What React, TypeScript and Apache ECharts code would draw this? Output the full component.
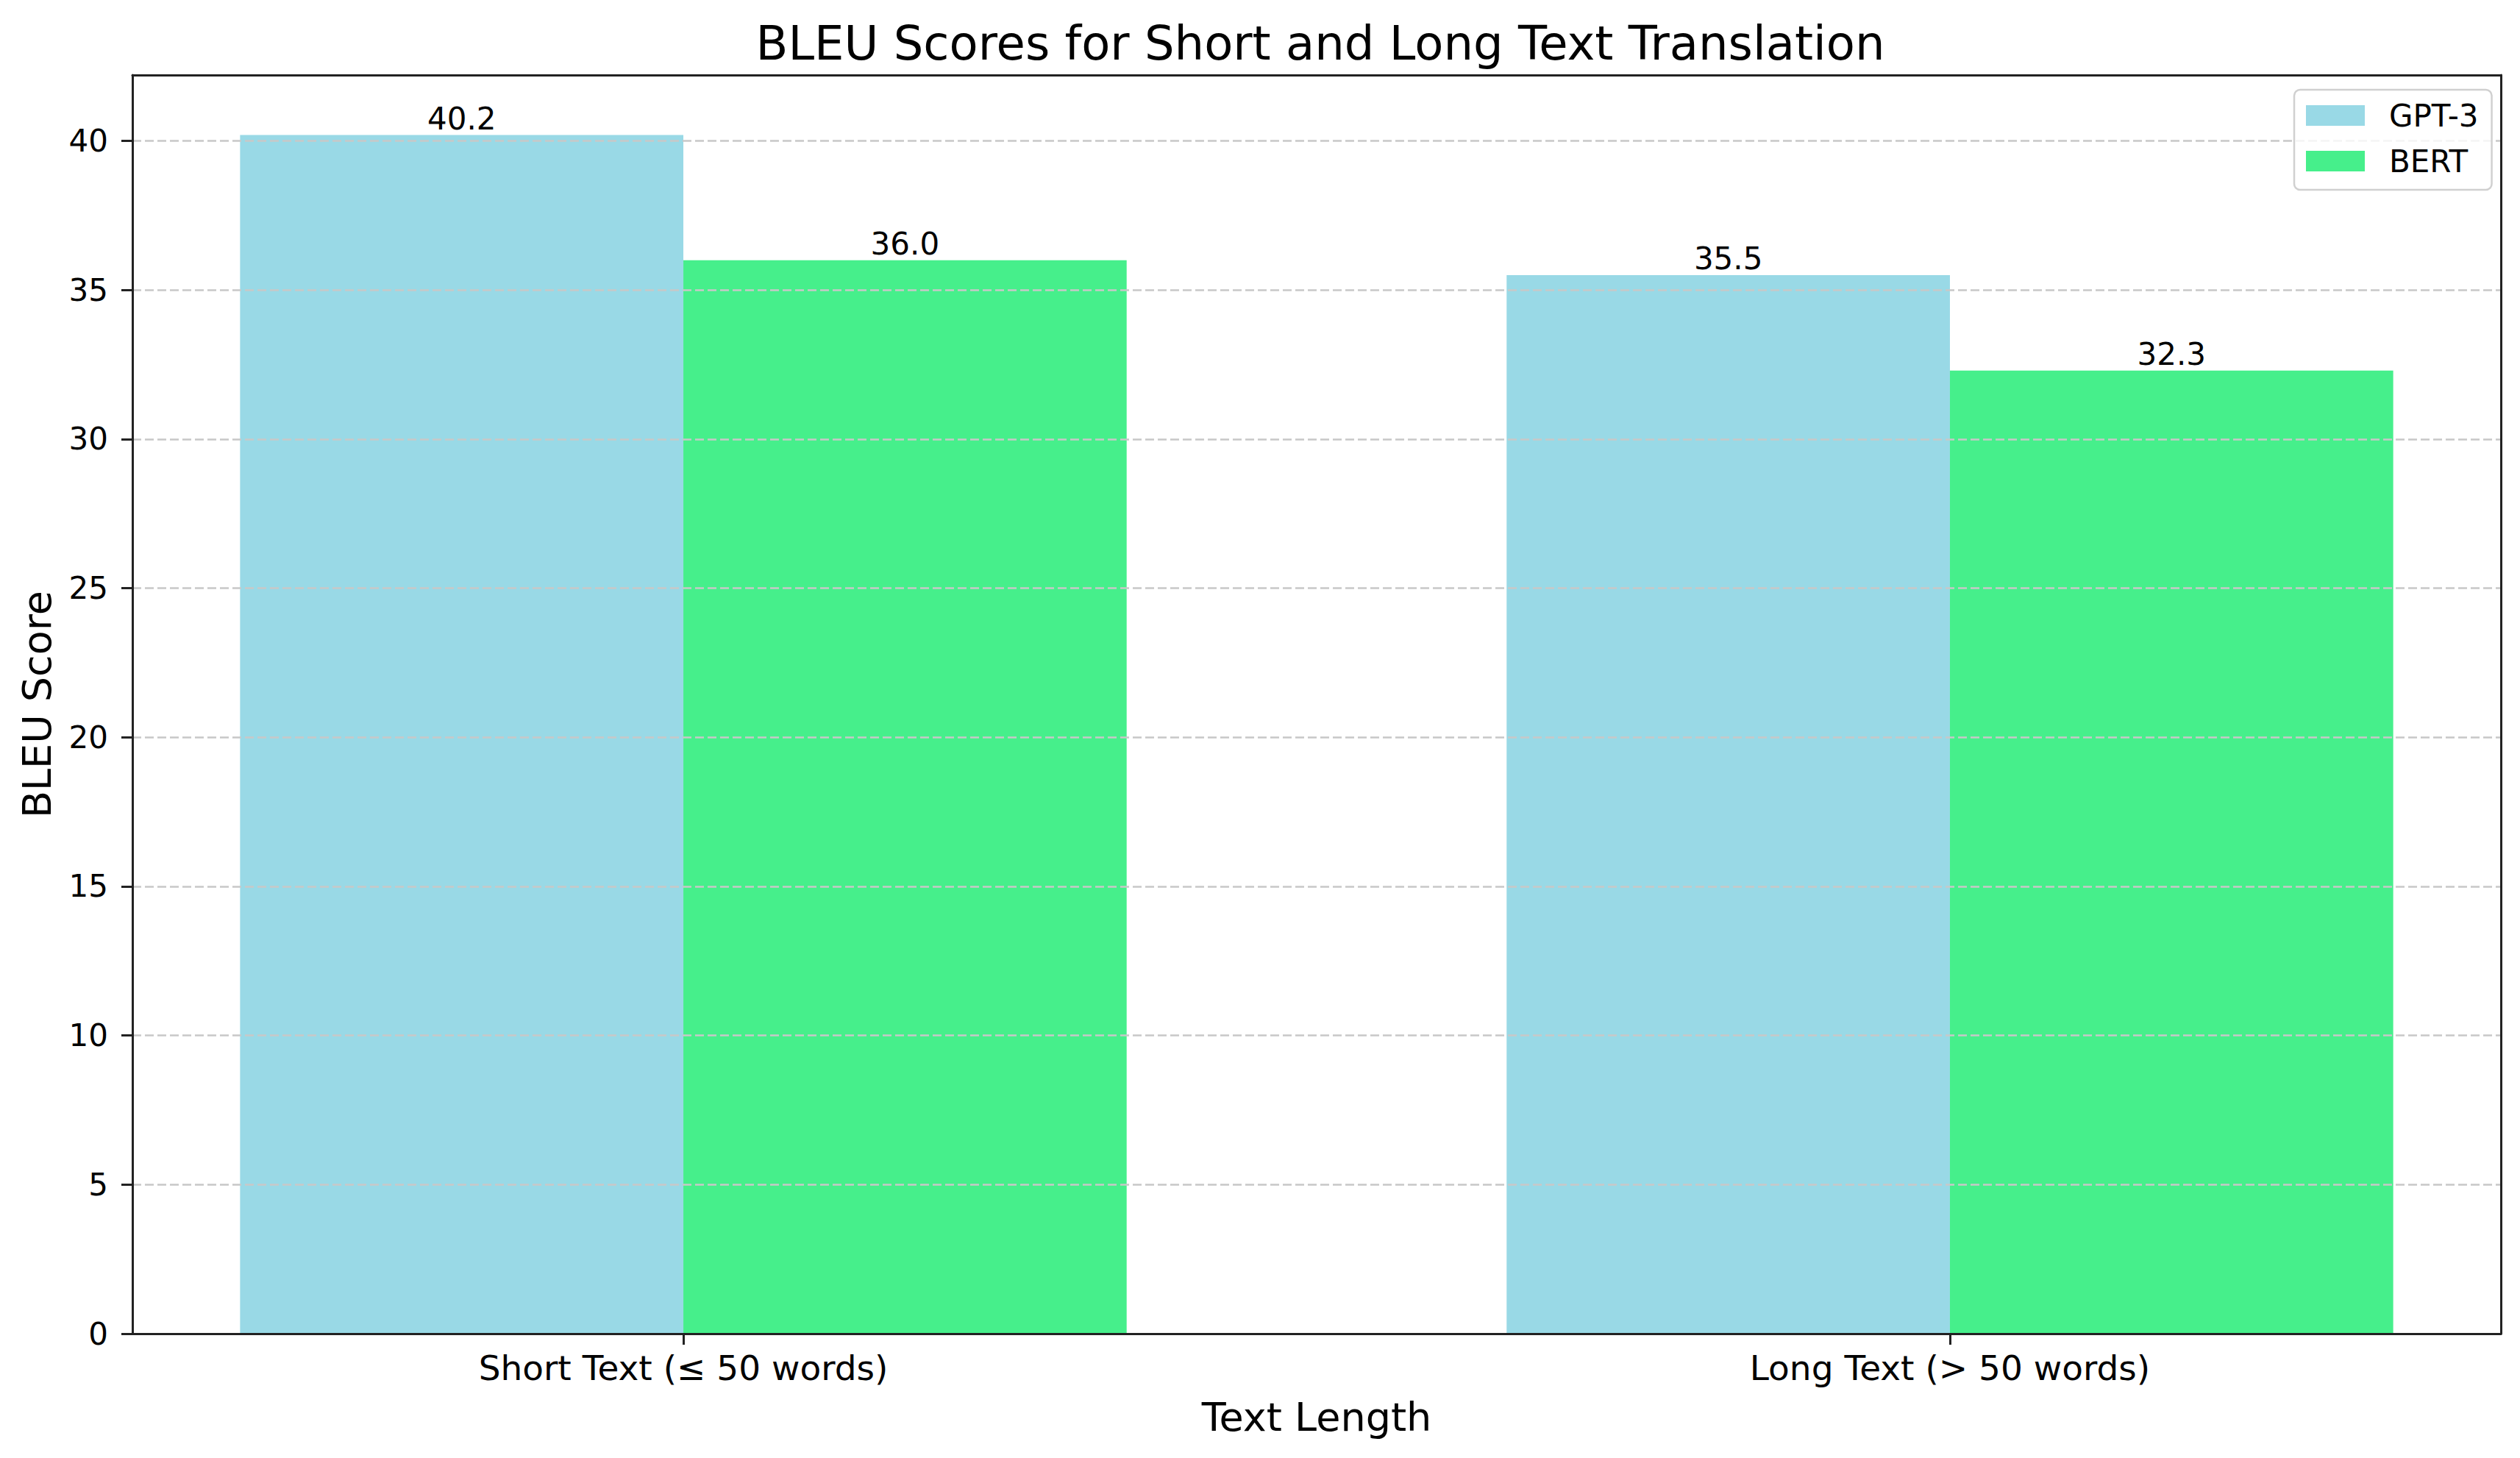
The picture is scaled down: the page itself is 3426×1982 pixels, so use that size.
import React, { useEffect, useRef } from "react";
import * as echarts from "echarts";

const categories = ["Short Text (≤ 50 words)", "Long Text (> 50 words)"];
const seriesNames = ["GPT-3", "BERT"];
const gpt3Scores = [40.2, 35.5];
const bertScores = [36.0, 32.3];
const yTickValues = [0, 5, 10, 15, 20, 25, 30, 35, 40];
const colors = ["#99D9E6", "#46EF8B"];

const W = 3426;
const H = 1982;
const gridLeft = 180;
const gridRight = 26;
const gridTop = 102;
const gridBottom = 169;
const barWidthUnits = 0.35;
const xMin = -0.435;
const xMax = 1.435;
const yMax = 42.21;
const FONT = "DejaVu Sans";

export default function App() {
  const ref = useRef<HTMLDivElement>(null);
  useEffect(() => {
    document.body.style.margin = "0";
    if (!ref.current) return;
    const chart = echarts.init(ref.current, undefined, { renderer: "svg" });
    const plotW = W - gridLeft - gridRight;
    const barPx = (barWidthUnits * plotW) / (xMax - xMin);
    const mkLabel = {
      show: true,
      position: "top",
      distance: 1,
      fontFamily: FONT,
      fontSize: 42,
      color: "#000",
      formatter: (p: any) => Number(p.value[1]).toFixed(1),
    };
    const option: any = {
      animation: false,
      backgroundColor: "#fff",
      textStyle: { fontFamily: FONT },
      title: {
        text: "BLEU Scores for Short and Long Text Translation",
        left: (gridLeft + W - gridRight) / 2,
        textAlign: "center",
        top: 22,
        textStyle: { fontFamily: FONT, fontSize: 64, fontWeight: "normal", color: "#000" },
      },
      legend: {
        data: seriesNames,
        orient: "vertical",
        left: 3119,
        top: 122,
        icon: "rect",
        itemWidth: 80,
        itemHeight: 28,
        itemGap: 20,
        padding: [14, 18, 18, 16],
        borderColor: "#d0d0d0",
        borderWidth: 2.5,
        borderRadius: 8,
        backgroundColor: "rgba(255,255,255,0.8)",
        z: 20,
        textStyle: { fontFamily: FONT, fontSize: 42, color: "#000", padding: [0, 0, 0, 28] },
      },
      grid: { left: gridLeft, right: gridRight, top: gridTop, bottom: gridBottom, containLabel: false },
      xAxis: [
        {
          type: "value",
          min: xMin,
          max: xMax,
          z: 5,
          name: "Text Length",
          nameLocation: "middle",
          nameGap: 86,
          nameTextStyle: { fontFamily: FONT, fontSize: 54, color: "#000" },
          splitLine: { show: false },
          axisLine: { show: true, onZero: false, lineStyle: { color: "#222", width: 3 } },
          axisTick: { show: true, inside: false, length: 15, customValues: [0, 1], lineStyle: { color: "#222", width: 3 } },
          axisLabel: {
            show: true,
            customValues: [0, 1],
            margin: 23,
            fontFamily: FONT,
            fontSize: 47,
            color: "#000",
            formatter: (v: number) => categories[Math.round(v)] ?? "",
          },
        },
        {
          type: "value",
          position: "top",
          min: xMin,
          max: xMax,
          z: 5,
          splitLine: { show: false },
          axisLine: { show: true, onZero: false, lineStyle: { color: "#222", width: 3 } },
          axisTick: { show: false },
          axisLabel: { show: false },
        },
      ],
      yAxis: [
        {
          type: "value",
          min: 0,
          max: yMax,
          z: 3,
          name: "BLEU Score",
          nameLocation: "middle",
          nameGap: 103,
          nameTextStyle: { fontFamily: FONT, fontSize: 54, color: "#000" },
          axisLine: { show: true, onZero: false, lineStyle: { color: "#222", width: 3 } },
          axisTick: { show: true, inside: false, length: 15, customValues: yTickValues, lineStyle: { color: "#222", width: 3 } },
          axisLabel: {
            show: true,
            customValues: yTickValues,
            margin: 33,
            fontFamily: FONT,
            fontSize: 42,
            color: "#000",
          },
          splitLine: {
            show: true,
            lineStyle: { color: "#c8c8c8", width: 2.5, type: [12, 5] },
          },
        },
        {
          type: "value",
          position: "right",
          min: 0,
          max: yMax,
          z: 5,
          axisLine: { show: true, onZero: false, lineStyle: { color: "#222", width: 3 } },
          axisTick: { show: false },
          axisLabel: { show: false },
          splitLine: { show: false },
        },
      ],
      series: [
        {
          name: seriesNames[0],
          type: "bar",
          xAxisIndex: 0,
          yAxisIndex: 0,
          barWidth: barPx,
          barGap: "-100%",
          itemStyle: { color: colors[0] },
          label: mkLabel,
          data: gpt3Scores.map((v, i) => [i - barWidthUnits / 2, v]),
        },
        {
          name: seriesNames[1],
          type: "bar",
          xAxisIndex: 0,
          yAxisIndex: 0,
          barWidth: barPx,
          barGap: "-100%",
          itemStyle: { color: colors[1] },
          label: mkLabel,
          data: bertScores.map((v, i) => [i + barWidthUnits / 2, v]),
        },
      ],
    };
    chart.setOption(option);
    return () => chart.dispose();
  }, []);
  return <div ref={ref} style={{ width: W, height: H }} />;
}
